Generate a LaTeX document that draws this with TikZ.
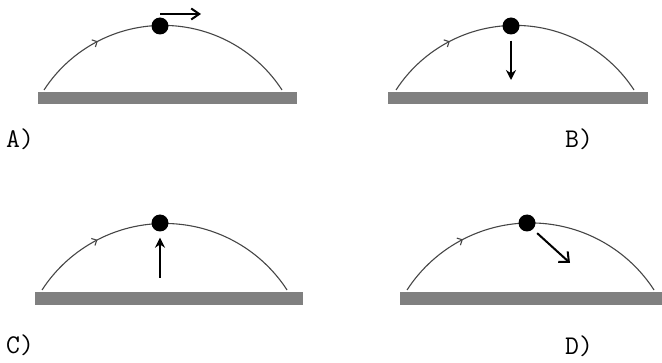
\documentclass[tikz,border=0pt]{standalone}
\usetikzlibrary{arrows.meta,decorations.markings}
\definecolor{barGray}{RGB}{128,128,128}
\definecolor{pathGray}{RGB}{70,70,70}

\begin{document}
\begin{tikzpicture}[x=1pt,y=1pt,
    ground/.style={fill=barGray},
    trajectory/.style={pathGray, line width=1.1pt, postaction={decorate},
      decoration={markings, mark=at position 0.26 with {\arrow{Straight Barb[length=4pt,width=8pt]}}}},
    ball/.style={circle, fill=black, inner sep=0pt, minimum size=17pt},
    vel/.style={line width=2pt},
    lbl/.style={font=\ttfamily\fontsize{27}{31}\selectfont, anchor=base west, inner sep=0pt}]
  \useasboundingbox (0,0) rectangle (662,362);

  % A) velocity at the top
  \fill[ground] (38,258) rectangle (297,270);
  \draw[trajectory] (44,272) arc[start angle=147, end angle=33, radius=141.9];
  \node[ball] (ballA) at (160,336) {};
  \coordinate (vA) at (201,348);
  \draw[vel, -{Straight Barb[length=8pt,width=11pt]}] (ballA.north |- vA) -- (vA);
  \node[lbl] (labA) at (6,214) {A)};

  % B) pointing down
  \fill[ground] (388,258) rectangle (648,270);
  \draw[trajectory] (396,272) arc[start angle=147, end angle=33, radius=141.9];
  \node[ball] (ballB) at (511,336) {};
  \coordinate (vB) at (511,282);
  \draw[vel, -{Stealth[length=10pt,width=10pt]}] ([yshift=-6]ballB.south) -- (vB);
  \node[lbl] (labB) at (565,214) {B)};

  % C) pointing up
  \fill[ground] (35,57) rectangle (303,70);
  \draw[trajectory] (42,72) arc[start angle=147, end angle=33, radius=146.1];
  \node[ball] (ballC) at (160,139) {};
  \coordinate (tC) at (160,84);
  \draw[vel, -{Stealth[length=10pt,width=10pt]}] (tC) -- ([yshift=-6]ballC.south);
  \node[lbl] (labC) at (6,9) {C)};

  % D) down and forward
  \fill[ground] (400,57) rectangle (662,70);
  \draw[trajectory] (407,72) arc[start angle=147, end angle=33, radius=147.3];
  \node[ball] (ballD) at (527,139) {};
  \coordinate (vD) at (570,99);
  \draw[vel, -{Straight Barb[length=8pt,width=14pt]}] ([shift={(4,-4)}]ballD.south east) -- (vD);
  \node[lbl] (labD) at (565,8) {D)};
\end{tikzpicture}
\end{document}
